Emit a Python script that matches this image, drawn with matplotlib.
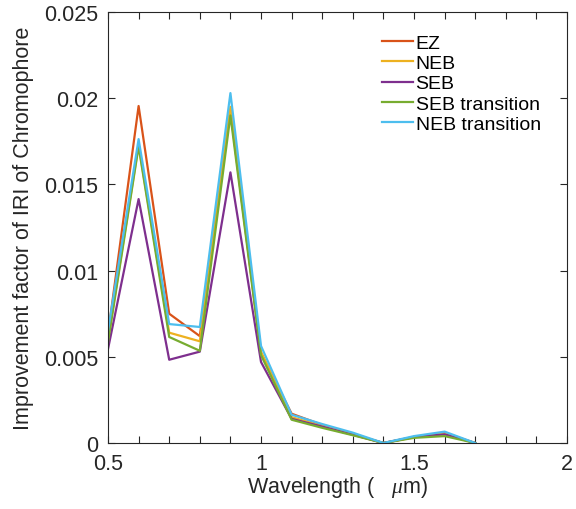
import numpy as np
import matplotlib.pyplot as plt

plt.rcParams['font.family'] = ['Liberation Sans', 'DejaVu Sans']
plt.rcParams['mathtext.fontset'] = 'custom'
plt.rcParams['mathtext.it'] = 'Liberation Serif:italic'

wavelength = [0.5, 0.6, 0.7, 0.8, 0.9, 1.0, 1.1, 1.2, 1.3, 1.4, 1.5, 1.6, 1.7]

ez = [0.0063, 0.01955, 0.0075, 0.0062, 0.0193, 0.0052, 0.0017, 0.00105, 0.00052, 0.0, 0.00035, 0.00058, 0.0]
neb = [0.0060, 0.0173, 0.0064, 0.0059, 0.0195, 0.0053, 0.0015, 0.00098, 0.0005, 0.0, 0.00033, 0.00055, 0.0]
seb = [0.00545, 0.01415, 0.00483, 0.0053, 0.0157, 0.0047, 0.0014, 0.00095, 0.00048, 0.0, 0.00035, 0.0005, 0.0]
seb_tr = [0.00585, 0.0172, 0.00615, 0.00535, 0.0190, 0.0051, 0.00135, 0.00088, 0.00045, 0.0, 0.0003, 0.0004, 0.0]
neb_tr = [0.0065, 0.01763, 0.0069, 0.00673, 0.0203, 0.00563, 0.00164, 0.0011, 0.0006, 0.0, 0.0004, 0.00066, 0.0]

names = ["EZ", "NEB", "SEB", "SEB transition", "NEB transition"]
colors = ["#D95319", "#EDB120", "#7E2F8E", "#77AC30", "#4DBEEE"]

xticks = [0.5, 1.0, 1.5, 2.0]
xticklabels = ["0.5", "1", "1.5", "2"]
yticks = [0, 0.005, 0.01, 0.015, 0.02, 0.025]
yticklabels = ["0", "0.005", "0.01", "0.015", "0.02", "0.025"]

fig = plt.figure(figsize=(5.76, 5.1), dpi=100)
ax = fig.add_axes([0.1875, 0.1294, 0.797, 0.845])

for vals, name, c in zip([ez, neb, seb, seb_tr, neb_tr], names, colors):
    ax.plot(wavelength, vals, color=c, linewidth=1.6, label=name)

ax.set_xlim(0.5, 2)
ax.set_ylim(0, 0.025)
ax.set_xticks(xticks)
ax.set_xticklabels(xticklabels)
ax.set_xticks(np.arange(0.5, 2.01, 0.1), minor=True)
ax.set_yticks(yticks)
ax.set_yticklabels(yticklabels)
ax.tick_params(which='both', direction='in', top=True, right=True, length=5,
               width=0.8, labelsize=15.5, colors='#262626', labelcolor='#262626')
ax.tick_params(axis='x', which='major', pad=7)
ax.tick_params(axis='y', which='major', pad=7)
for s in ax.spines.values():
    s.set_color('#262626')
    s.set_linewidth(0.8)

ax.set_xlabel("Wavelength (   $\\mu$m)", fontsize=15.5, color='#262626', labelpad=0)
ax.set_ylabel("Improvement factor of IRI of Chromophore", fontsize=15.5, color='#262626', labelpad=7)

ax.legend(loc='upper right', bbox_to_anchor=(0.968, 0.975), frameon=False, fontsize=14,
          handlelength=1.6, handletextpad=0.15, labelspacing=0.13, borderaxespad=0.2)

fig.savefig("out.png", dpi=100)
